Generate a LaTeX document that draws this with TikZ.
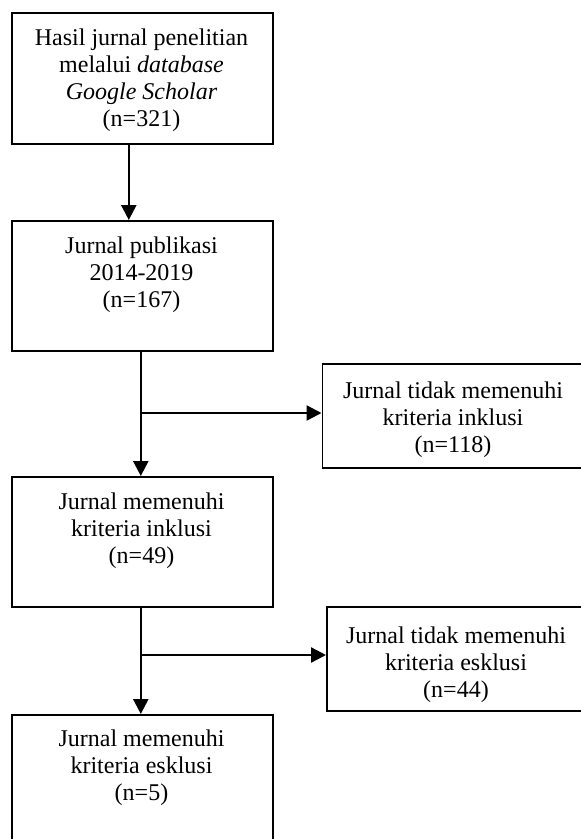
\documentclass[tikz,border=0pt]{standalone}
\usepackage{fontspec}
\setmainfont{Liberation Serif}
\usetikzlibrary{arrows.meta}
\begin{document}
\begin{tikzpicture}[x=1pt,y=-1pt,
  box/.style={draw=black,line width=1.6pt,rectangle,anchor=north west,inner sep=0pt},
  txt/.style={anchor=north,align=center,inner sep=0pt,font=\fontsize{24}{27}\selectfont},
  arr/.style={line width=2.4pt,-{Triangle[length=15pt,width=15pt]}}]
\useasboundingbox (0,0) rectangle (581,839);
\begin{scope}
\clip (0,0) rectangle (581,839);
% main column
\node[box,minimum width=261pt,minimum height=131pt] (b1) at (11,12) {};
\node[box,minimum width=261pt,minimum height=130pt] (b2) at (11,220) {};
\node[box,minimum width=261pt,minimum height=130pt] (b3) at (11,476) {};
\node[box,minimum width=261pt,minimum height=150pt] (b4) at (11,714) {};
% side boxes
\node[box,minimum width=275pt,minimum height=104pt] (s1) at (321.5,363) {};
\node[box,minimum width=275pt,minimum height=104pt] (s2) at (326,606) {};
\end{scope}
% texts
\node[txt] (t1) at (141.5,26) {\strut Hasil jurnal penelitian\\ melalui \textit{database}\\ \textit{Google Scholar}\\ (n=321)};
\node[txt] (t2) at (141.5,234) {\strut Jurnal publikasi\\ 2014-2019\\ (n=167)};
\node[txt] (t3) at (141.5,490) {\strut Jurnal memenuhi\\ kriteria inklusi\\ (n=49)};
\node[txt] (t4) at (141.5,727) {\strut Jurnal memenuhi\\ kriteria esklusi\\ (n=5)};
\node[txt] (ts1) at (453,379) {\strut Jurnal tidak memenuhi\\ kriteria inklusi\\ (n=118)};
\node[txt] (ts2) at (456,624) {\strut Jurnal tidak memenuhi\\ kriteria esklusi\\ (n=44)};
% connectors
\draw[arr] ([xshift=-13.5pt]b1.south) -- ([xshift=-13.5pt]b2.north);
\draw[arr] ([xshift=-1.5pt]b2.south) -- ([xshift=-1.5pt]b3.north);
\draw[arr] ([xshift=-1.5pt]b3.south) -- ([xshift=-1.5pt]b4.north);
\coordinate (j1) at (140,413);
\coordinate (j2) at (140,655);
\draw[arr] (j1) -- (j1 -| s1.west);
\draw[arr] (j2) -- (j2 -| s2.west);
\end{tikzpicture}
\end{document}
